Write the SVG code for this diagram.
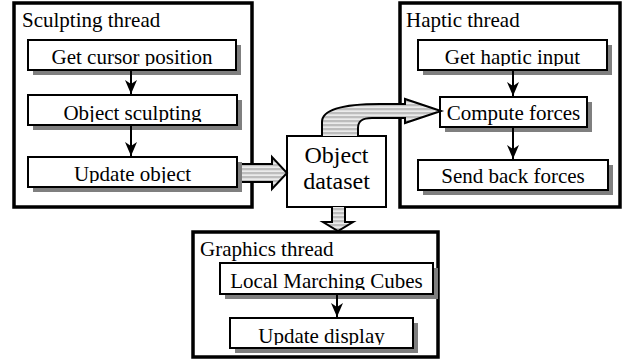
<svg xmlns="http://www.w3.org/2000/svg" width="627" height="362" viewBox="0 0 627 362">
  <style>
    .frame { fill: #ffffff; stroke: #000000; stroke-width: 3.5; }
    .box { fill: #ffffff; stroke: #000000; stroke-width: 2; }
    .shadow { fill: #7f7f7f; }
    text { font-family: 'Liberation Serif', 'DejaVu Serif', serif; fill: #000000; }
    .title { font-size: 21px; }
    .label { font-size: 21px; text-anchor: middle; }
    .big { font-size: 24px; text-anchor: middle; }
    .flow { stroke: #000000; stroke-width: 2; fill: none; marker-end: url(#head); }
    .hatch { fill: url(#stripes); stroke: #000000; stroke-width: 2; stroke-linejoin: miter; }
  </style>
  <defs>
    <marker id="head" viewBox="0 0 14 12" refX="14" refY="6" markerWidth="14" markerHeight="12" markerUnits="userSpaceOnUse" orient="auto">
      <path d="M0,0 L14,6 L0,12 L4,6 Z" fill="#000000"/>
    </marker>
    <pattern id="stripes" patternUnits="userSpaceOnUse" width="8" height="4">
      <rect width="8" height="4" fill="#bdbdbd"/>
      <rect y="2.5" width="8" height="1.2" fill="#ffffff"/>
    </pattern>
  </defs>

  <!-- thread frames -->
  <g id="sculpting-thread">
    <rect class="frame" x="14" y="3" width="238" height="204"/>
    <text class="title" x="22" y="27">Sculpting thread</text>
  </g>
  <g id="haptic-thread">
    <rect class="frame" x="400" y="3" width="220" height="204"/>
    <text class="title" x="406" y="27">Haptic thread</text>
  </g>
  <g id="graphics-thread">
    <rect class="frame" x="193" y="232" width="245" height="125"/>
    <text class="title" x="200" y="256">Graphics thread</text>
  </g>

  <!-- step boxes: shadow, box, then the label in a viewport that trims descenders -->
  <g id="get-cursor-position">
    <rect class="shadow" x="33" y="45" width="208" height="30"/>
    <rect class="box" x="28" y="40" width="208" height="30"/>
    <svg x="28" y="40" width="208" height="26">
      <text class="label" x="104" y="24">Get cursor position</text>
    </svg>
  </g>
  <g id="object-sculpting">
    <rect class="shadow" x="33" y="100" width="209" height="30"/>
    <rect class="box" x="28" y="95" width="209" height="30"/>
    <svg x="28" y="95" width="209" height="27">
      <text class="label" x="104.5" y="25">Object sculpting</text>
    </svg>
  </g>
  <g id="update-object">
    <rect class="shadow" x="33" y="162" width="209" height="30"/>
    <rect class="box" x="28" y="157" width="209" height="30"/>
    <svg x="28" y="157" width="209" height="26">
      <text class="label" x="104.5" y="24">Update object</text>
    </svg>
  </g>

  <g id="get-haptic-input">
    <rect class="shadow" x="423" y="45" width="189" height="30"/>
    <rect class="box" x="418" y="40" width="189" height="30"/>
    <svg x="418" y="40" width="189" height="26">
      <text class="label" x="94.5" y="24">Get haptic input</text>
    </svg>
  </g>
  <g id="compute-forces">
    <rect class="shadow" x="445" y="102" width="147" height="30"/>
    <rect class="box" x="440" y="97" width="147" height="30"/>
    <svg x="440" y="97" width="147" height="30">
      <text class="label" x="73.5" y="23">Compute forces</text>
    </svg>
  </g>
  <g id="send-back-forces">
    <rect class="shadow" x="423" y="165" width="190" height="30"/>
    <rect class="box" x="418" y="160" width="190" height="30"/>
    <svg x="418" y="160" width="190" height="30">
      <text class="label" x="95" y="23">Send back forces</text>
    </svg>
  </g>

  <g id="local-marching-cubes">
    <rect class="shadow" x="225" y="268" width="213" height="31"/>
    <rect class="box" x="220" y="263" width="213" height="31"/>
    <svg x="220" y="263" width="213" height="27">
      <text class="label" x="106.5" y="25">Local Marching Cubes</text>
    </svg>
  </g>
  <g id="update-display">
    <rect class="shadow" x="235" y="323" width="183" height="30"/>
    <rect class="box" x="230" y="318" width="183" height="30"/>
    <svg x="230" y="318" width="183" height="27">
      <text class="label" x="91.5" y="25">Update display</text>
    </svg>
  </g>

  <g id="object-dataset">
    <rect class="box" x="287" y="136" width="99" height="71"/>
    <text class="big" x="336.5" y="163">Object</text>
    <text class="big" x="336.5" y="189">dataset</text>
  </g>

  <!-- connectors -->
  <g id="connectors">
    <line class="flow" x1="131" y1="71" x2="131" y2="94"/>
    <line class="flow" x1="131" y1="126" x2="131" y2="156"/>
    <line class="flow" x1="513" y1="71" x2="513" y2="96"/>
    <line class="flow" x1="513" y1="128" x2="513" y2="159"/>
    <line class="flow" x1="337" y1="295" x2="337" y2="317"/>

    <!-- data transfer arrows -->
    <path class="hatch" d="M242,164 L272,164 L272,157 L287,173 L272,189 L272,182 L242,182"/>
    <path class="hatch" d="M322,136 L322,122 C322,109 345,104 380,104 L405,104 L405,99 L441,111 L405,123 L405,118 L372,118 C362,118 358,121 358,128 L358,136"/>
    <path class="hatch" d="M332,207 L332,222 L323,222 L338,231 L353,222 L345,222 L345,207"/>
  </g>
</svg>
